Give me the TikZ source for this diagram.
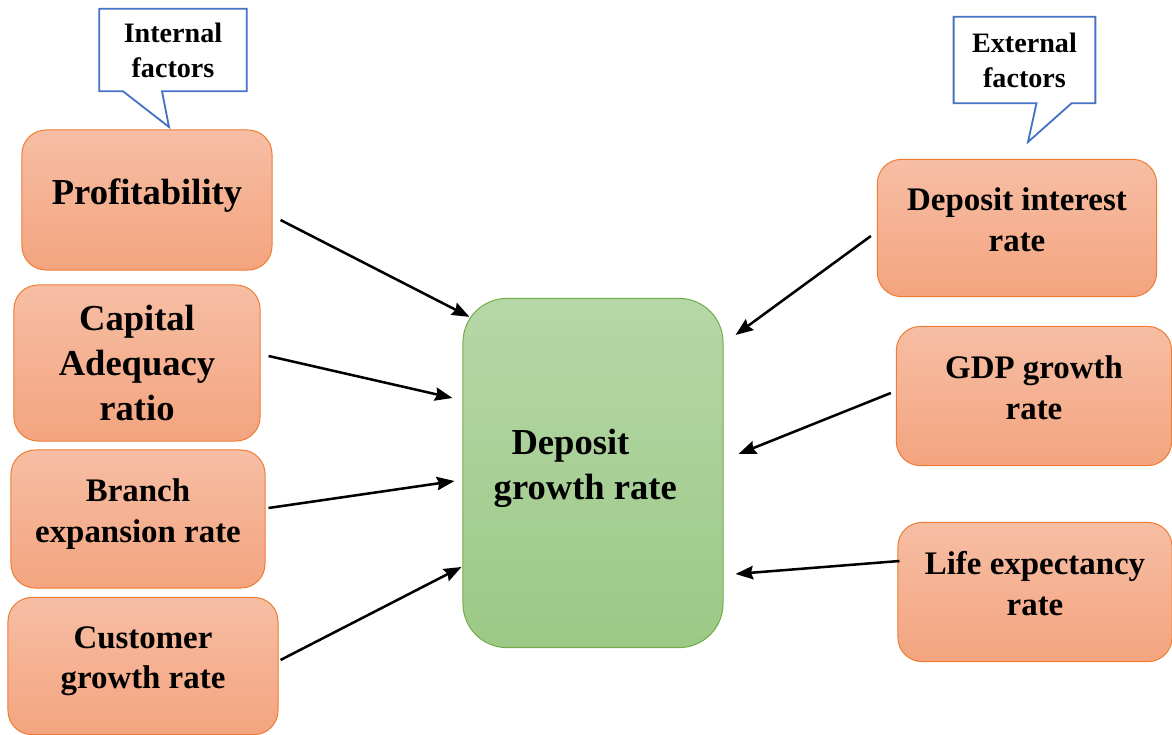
\documentclass[tikz,border=0pt]{standalone}
\usepackage{fontspec}
\setmainfont{Liberation Serif}
\usetikzlibrary{arrows.meta}
\definecolor{boxline}{HTML}{ED7D31}
\definecolor{boxtop}{HTML}{F6BEA4}
\definecolor{boxbot}{HTML}{F4A47F}
\definecolor{goalline}{HTML}{70AD47}
\definecolor{goaltop}{HTML}{B6D7A8}
\definecolor{goalbot}{HTML}{9CC986}
\definecolor{noteline}{HTML}{4472C4}
\begin{document}
\begin{tikzpicture}[x=0.025cm,y=-0.025cm,
  factor/.style={rectangle, rounded corners=0.6cm, draw=boxline, line width=0.7pt,
    top color=boxtop, bottom color=boxbot, align=center, inner sep=0pt, text depth=12pt},
  goal/.style={rectangle, rounded corners=1.1cm, draw=goalline, line width=0.7pt,
    top color=goaltop, bottom color=goalbot, align=center, inner sep=0pt, text depth=12.6pt},
  note/.style={rectangle, align=center, inner sep=0pt},
  noteedge/.style={draw=noteline, line width=1.3pt, line join=miter},
  bigtxt/.style={font=\fontsize{26}{32}\selectfont\bfseries},
  midtxt/.style={font=\fontsize{23.4}{29}\selectfont\bfseries},
  smalltxt/.style={font=\fontsize{20}{25}\selectfont\bfseries},
  link/.style={-{Stealth[length=12.5pt,width=9.5pt,inset=1.5pt]}, line width=1.8pt}]
\useasboundingbox (0,0) rectangle (1172,735);
% internal factors
\node [factor, bigtxt, minimum width=6.25cm, minimum height=3.5cm] (prof) at (147,200) {Profitability};
\node [factor, bigtxt, minimum width=6.15cm, minimum height=3.9cm, text depth=-5pt] (cap) at (137,363) {Capital\\Adequacy\\ratio};
\node [factor, midtxt, minimum width=6.35cm, minimum height=3.45cm] (branch) at (138,519) {Branch\\expansion rate};
\node [factor, midtxt, minimum width=6.75cm, minimum height=3.43cm] (cust) at (143,666) {Customer\\growth rate};
% target
\node [goal, bigtxt, minimum width=6.5cm, minimum height=8.73cm] (dep) at (593,473) {Deposit\hspace*{32pt}\\growth rate\hspace*{11pt}};
% external factors
\node [factor, midtxt, minimum width=6.98cm, minimum height=3.43cm] (inter) at (1017,228) {Deposit interest\\rate};
\node [factor, midtxt, minimum width=6.88cm, minimum height=3.48cm] (gdp) at (1034,396) {GDP growth\\rate};
\node [factor, midtxt, minimum width=6.85cm, minimum height=3.48cm] (life) at (1035,592) {Life expectancy\\rate};
% callouts
\node [note, smalltxt, minimum width=3.67cm, minimum height=2.05cm] (intnote) at (173,50) {Internal\\factors};
\coordinate (intpin) at (169,127);
\draw [noteedge] (intnote.north west) -- (intnote.north east) -- (intnote.south east)
  -- ([shift={(-11,0)}]intnote.south) -- (intpin) -- ([shift={(-50,0)}]intnote.south)
  -- (intnote.south west) -- cycle;
\node [note, smalltxt, minimum width=3.53cm, minimum height=2.15cm] (extnote) at (1024.5,60) {External\\factors};
\coordinate (extpin) at (1028,142);
\draw [noteedge] (extnote.north west) -- (extnote.north east) -- (extnote.south east)
  -- ([shift={(47,0)}]extnote.south) -- (extpin) -- ([shift={(12,0)}]extnote.south)
  -- (extnote.south west) -- cycle;
% arrows
\draw [link] ([shift={(8,20)}]prof.east) -- ([shift={(7,19)}]dep.north west);
\draw [link] ([shift={(8,-7)}]cap.east) -- ([shift={(-10,-75)}]dep.west);
\draw [link] ([shift={(3,-11)}]branch.east) -- ([shift={(-8,8)}]dep.west);
\draw [link] ([shift={(2,-6)}]cust.east) -- ([shift={(-1,94)}]dep.west);
\draw [link] ([shift={(-6,8)}]inter.west) -- ([shift={(12,-138)}]dep.east);
\draw [link] ([shift={(-5,-3)}]gdp.west) -- ([shift={(15,-19)}]dep.east);
\draw [link] ([shift={(2,-31)}]life.west) -- ([shift={(12,101)}]dep.east);
\end{tikzpicture}
\end{document}
